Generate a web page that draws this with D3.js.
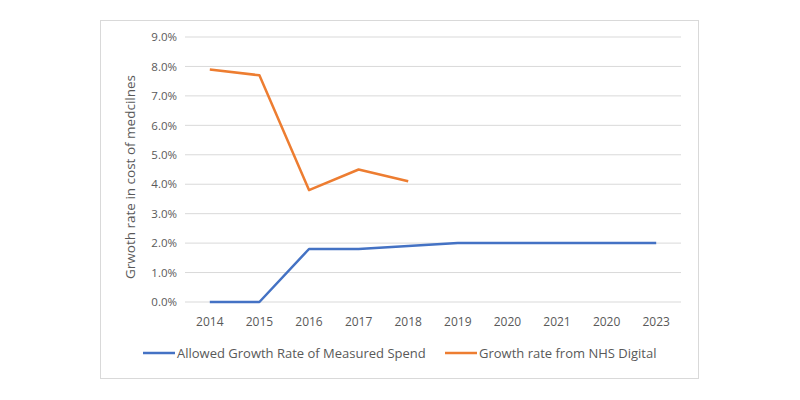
<!DOCTYPE html>
<html><head><meta charset="utf-8">
<script src="https://cdn.jsdelivr.net/npm/d3@7/dist/d3.min.js"></script>
<style>body{margin:0;background:#fff;} text{font-family:"Open Sans","Liberation Sans",sans-serif;}</style>
</head><body><svg id="c" width="800" height="400"></svg>
<script>
const categories = ["2014","2015","2016","2017","2018","2019","2020","2021","2020","2023"];
const allowedGrowth = [0.0, 0.0, 1.8, 1.8, 1.9, 2.0, 2.0, 2.0, 2.0, 2.0];
const nhsDigital = [7.9, 7.7, 3.8, 4.5, 4.1];
const yTicks = [0,1,2,3,4,5,6,7,8,9];
const seriesNames = ["Allowed Growth Rate of Measured Spend","Growth rate from NHS Digital"];
const colors = ["#4472c4","#ed7d31"];

const svg = d3.select("#c");
svg.append("rect").attr("x",100.5).attr("y",20.5).attr("width",598).attr("height",358)
  .attr("fill","#fff").attr("stroke","#d9d9d9");

const L=185,R=681,T=37,B=302;
const x = d3.scaleBand().domain(d3.range(categories.length)).range([L,R]);
const y = d3.scaleLinear().domain([0,9]).range([B,T]);

const g = svg.append("g");
g.selectAll("line.grid").data(yTicks).join("line")
  .attr("x1",L).attr("x2",R).attr("y1",d=>y(d)).attr("y2",d=>y(d))
  .attr("stroke","#d9d9d9").attr("stroke-width",1);

const yAxis = d3.axisLeft(y).tickValues(yTicks).tickFormat(d=>d.toFixed(1)+"%").tickSize(0).tickPadding(8);
const ya = svg.append("g").attr("transform",`translate(${L},0)`).call(yAxis);
ya.select(".domain").remove();
ya.selectAll("text").attr("fill","#595959").style("font-size","11.5px");

const xAxis = d3.axisBottom(x).tickFormat(i=>categories[i]).tickSize(0).tickPadding(15);
const xa = svg.append("g").attr("transform",`translate(0,${B})`).call(xAxis);
xa.select(".domain").remove();
xa.selectAll("text").attr("fill","#595959").style("font-size","12px");

svg.append("text").attr("transform","translate(135,177) rotate(-90)")
  .attr("text-anchor","middle").attr("fill","#595959").style("font-size","13.5px")
  .text("Grwoth rate in cost of medcilnes");

const line = d3.line().x((d,i)=>x(i)+x.bandwidth()/2).y(d=>y(d));
[allowedGrowth, nhsDigital].forEach((s,k)=>{
  svg.append("path").datum(s).attr("d",line).attr("fill","none")
    .attr("stroke",colors[k]).attr("stroke-width",2.5).attr("stroke-linejoin","round");
});

const legX=[143,445];
seriesNames.forEach((n,k)=>{
  svg.append("line").attr("x1",legX[k]).attr("x2",legX[k]+32).attr("y1",353).attr("y2",353)
    .attr("stroke",colors[k]).attr("stroke-width",2.5);
  svg.append("text").attr("x",legX[k]+34).attr("y",357.5).attr("fill","#595959")
    .style("font-size","13px").text(n);
});
</script></body></html>
